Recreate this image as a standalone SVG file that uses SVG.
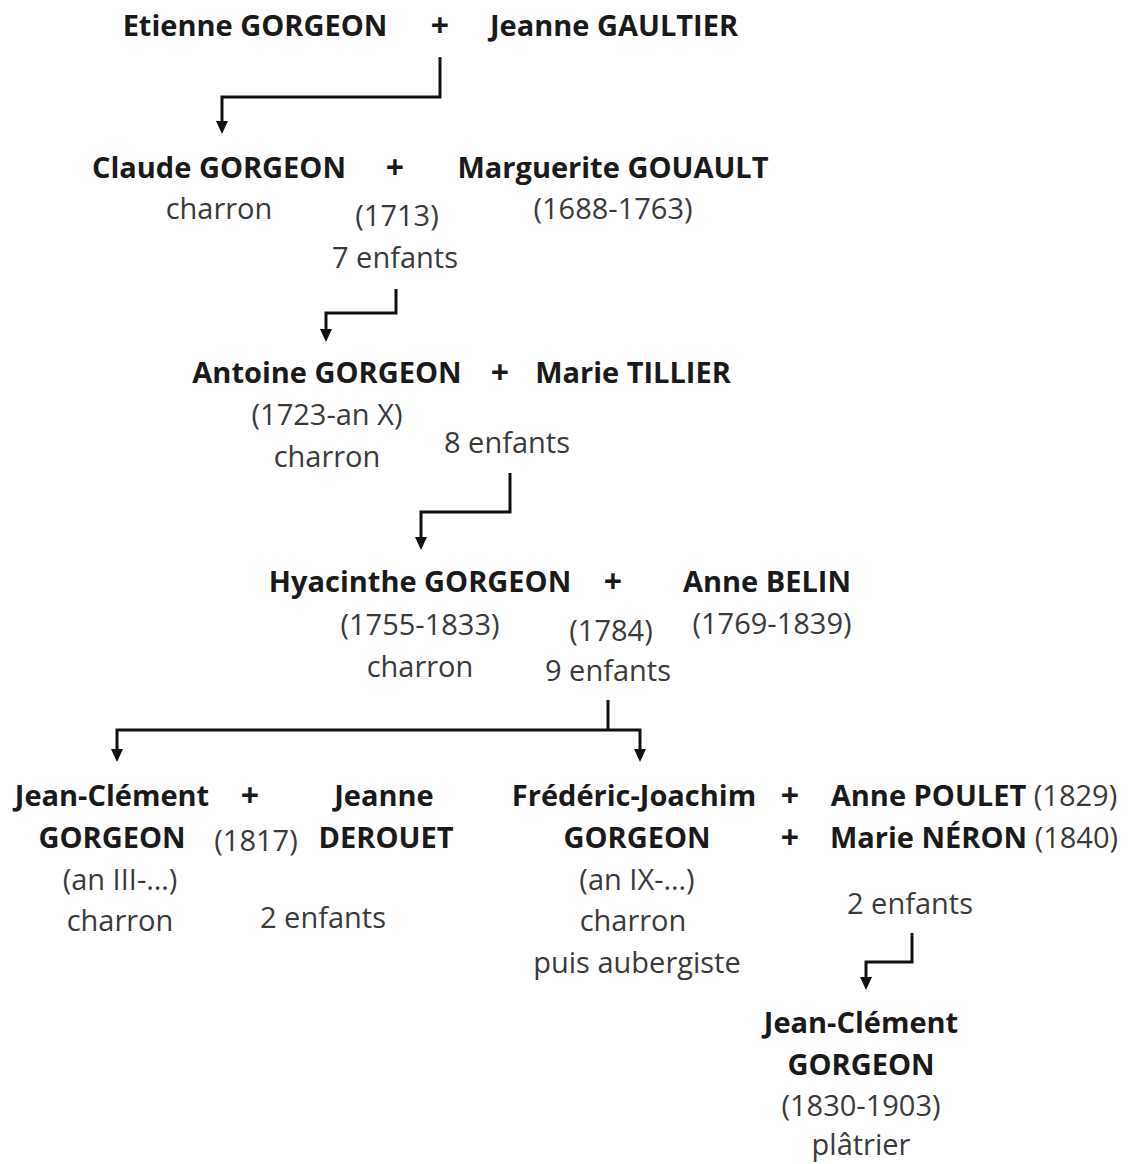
<svg xmlns="http://www.w3.org/2000/svg" width="1132" height="1164" viewBox="0 0 1132 1164">
  <style>
    text { font-family: "Open Sans", "Noto Sans", sans-serif; font-size: 29px; text-anchor: middle; }
    .n { font-weight: bold; fill: #1a1a1a; }
    .d { fill: #3a3a3a; }
    .p { font-weight: bold; fill: #1a1a1a; font-size: 32px; }
    .s { fill: #3a3a3a; font-weight: normal; }
    .link { fill: none; stroke: #111; stroke-width: 3; }
    .head { fill: #111; }
  </style>
  <rect width="1132" height="1164" fill="#fff"/>

  <g id="connectors">
    <path class="link" d="M440,57 V97 H222 V122"/>
    <path class="head" d="M216,121 L228,121 L222,134 Z"/>
    <path class="link" d="M396,289 V313 H326 V330"/>
    <path class="head" d="M320,329 L332,329 L326,342 Z"/>
    <path class="link" d="M510,473 V512 H421 V538"/>
    <path class="head" d="M415,537 L427,537 L421,550 Z"/>
    <path class="link" d="M608,700 V730"/>
    <path class="link" d="M117,750 V730 H640 V750"/>
    <path class="head" d="M111,749 L123,749 L117,762 Z"/>
    <path class="head" d="M634,749 L646,749 L640,762 Z"/>
    <path class="link" d="M912,933 V962 H866 V978"/>
    <path class="head" d="M860,977 L872,977 L866,990 Z"/>
  </g>

  <g id="etienne-gorgeon"><text class="n" x="255" y="36">Etienne GORGEON</text></g>
  <g id="union-1"><text class="p" x="440" y="37">+</text></g>
  <g id="jeanne-gaultier"><text class="n" x="614" y="36">Jeanne GAULTIER</text></g>

  <g id="claude-gorgeon">
    <text class="n" x="219" y="178">Claude GORGEON</text>
    <text class="d" x="219" y="219">charron</text>
  </g>
  <g id="union-2">
    <text class="p" x="395" y="179">+</text>
    <text class="d" x="397" y="226">(1713)</text>
    <text class="d" x="395" y="268">7 enfants</text>
  </g>
  <g id="marguerite-gouault">
    <text class="n" x="613" y="178">Marguerite GOUAULT</text>
    <text class="d" x="613" y="219">(1688-1763)</text>
  </g>

  <g id="antoine-gorgeon">
    <text class="n" x="327" y="383">Antoine GORGEON</text>
    <text class="d" x="327" y="425">(1723-an X)</text>
    <text class="d" x="327" y="467">charron</text>
  </g>
  <g id="union-3">
    <text class="p" x="500" y="384">+</text>
    <text class="d" x="507" y="453">8 enfants</text>
  </g>
  <g id="marie-tillier"><text class="n" x="633" y="383">Marie TILLIER</text></g>

  <g id="hyacinthe-gorgeon">
    <text class="n" x="420" y="592">Hyacinthe GORGEON</text>
    <text class="d" x="420" y="635">(1755-1833)</text>
    <text class="d" x="420" y="677">charron</text>
  </g>
  <g id="union-4">
    <text class="p" x="613" y="593">+</text>
    <text class="d" x="611" y="641">(1784)</text>
    <text class="d" x="608" y="681">9 enfants</text>
  </g>
  <g id="anne-belin">
    <text class="n" x="767" y="592">Anne BELIN</text>
    <text class="d" x="772" y="634">(1769-1839)</text>
  </g>

  <g id="jean-clement-gorgeon-1">
    <text class="n" x="112" y="806">Jean-Clément</text>
    <text class="n" x="112" y="848">GORGEON</text>
    <text class="d" x="120" y="890">(an III-…)</text>
    <text class="d" x="120" y="931">charron</text>
  </g>
  <g id="union-5">
    <text class="p" x="250" y="807">+</text>
    <text class="d" x="256" y="851">(1817)</text>
    <text class="d" x="323" y="928">2 enfants</text>
  </g>
  <g id="jeanne-derouet">
    <text class="n" x="384" y="806">Jeanne</text>
    <text class="n" x="386" y="848">DEROUET</text>
  </g>

  <g id="frederic-joachim-gorgeon">
    <text class="n" x="634" y="806">Frédéric-Joachim</text>
    <text class="n" x="637" y="848">GORGEON</text>
    <text class="d" x="637" y="890">(an IX-…)</text>
    <text class="d" x="633" y="931">charron</text>
    <text class="d" x="637" y="973">puis aubergiste</text>
  </g>
  <g id="union-6">
    <text class="p" x="790" y="807">+</text>
    <text class="p" x="790" y="849">+</text>
    <text class="d" x="910" y="914">2 enfants</text>
  </g>
  <g id="anne-poulet"><text class="n" x="974" y="806">Anne POULET<tspan class="s"> (1829)</tspan></text></g>
  <g id="marie-neron"><text class="n" x="974" y="848">Marie NÉRON<tspan class="s"> (1840)</tspan></text></g>

  <g id="jean-clement-gorgeon-2">
    <text class="n" x="861" y="1033">Jean-Clément</text>
    <text class="n" x="861" y="1075">GORGEON</text>
    <text class="d" x="861" y="1116">(1830-1903)</text>
    <text class="d" x="861" y="1155">plâtrier</text>
  </g>
</svg>
